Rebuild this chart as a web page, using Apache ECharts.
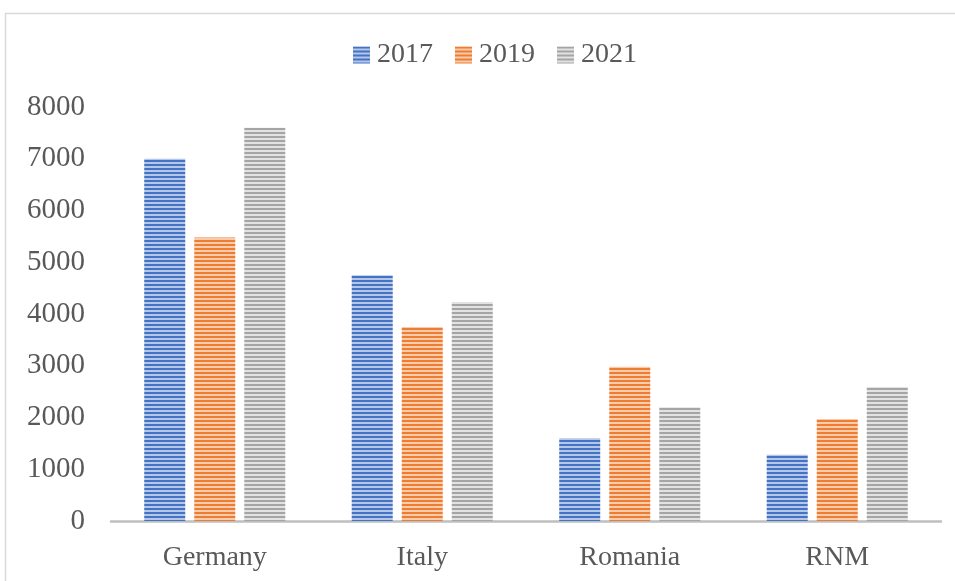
<!DOCTYPE html>
<html>
<head>
<meta charset="utf-8">
<script src="https://cdn.jsdelivr.net/npm/echarts@6/dist/echarts.min.js"></script>
<style>
  html, body { margin: 0; padding: 0; background: #fff; }
  #chart { width: 955px; height: 581px; }
</style>
</head>
<body>
<div id="chart"></div>
<script>
// Countries on the category axis
const countries = ['Germany', 'Italy', 'Romania', 'RNM'];
// Yearly values per country
const years = ['2017', '2019', '2021'];
const values2017 = [7000, 4750, 1600, 1280];
const values2019 = [5480, 3750, 2980, 1970];
const values2021 = [7600, 4230, 2200, 2590];
// Value axis ticks
const yTicks = [0, 1000, 2000, 3000, 4000, 5000, 6000, 7000, 8000];

const FONT = '"Liberation Serif", "Times New Roman", serif';

// Horizontal stripe fill: a dark row and a light row repeated
function stripes(dark, light) {
  const c = document.createElement('canvas');
  c.width = 4; c.height = 4;
  const ctx = c.getContext('2d');
  ctx.fillStyle = light;
  ctx.fillRect(0, 0, 4, 4);
  ctx.fillStyle = dark;
  ctx.fillRect(0, 0, 4, 2);
  return { image: c, repeat: 'repeat' };
}

const fills = [
  stripes('#4472C4', '#B4C7E7'),
  stripes('#ED7D31', '#F8CBAD'),
  stripes('#A5A5A5', '#E2E2E2')
];
const seriesValues = [values2017, values2019, values2021];

const chart = echarts.init(document.getElementById('chart'), null, { renderer: 'canvas' });
chart.setOption({
  backgroundColor: '#fff',
  animation: false,
  graphic: [{
    type: 'rect',
    shape: { x: 5.5, y: 13.5, width: 1000, height: 1000 },
    style: { fill: 'none', stroke: '#D9D9D9', lineWidth: 1.5 },
    silent: true
  }],
  legend: {
    top: 36,
    left: 348,
    itemWidth: 17,
    itemHeight: 17,
    itemGap: 22,
    icon: 'rect',
    textStyle: { fontFamily: FONT, fontSize: 28, color: '#595959', padding: [0, 0, 0, 2] },
    data: years
  },
  grid: { left: 111, right: 14, top: 107, bottom: 60, containLabel: false },
  xAxis: {
    type: 'category',
    data: countries,
    axisLine: { lineStyle: { color: '#BFBFBF', width: 2.5 } },
    axisTick: { show: false },
    axisLabel: { fontFamily: FONT, fontSize: 28, color: '#595959', margin: 23 }
  },
  yAxis: {
    type: 'value',
    min: yTicks[0],
    max: yTicks[yTicks.length - 1],
    interval: 1000,
    axisLine: { show: false },
    axisTick: { show: false },
    splitLine: { show: false },
    axisLabel: {
      fontFamily: FONT, fontSize: 29, color: '#595959', margin: 26,
      padding: [5, 0, 0, 0],
      formatter: v => String(v)
    }
  },
  series: years.map((y, i) => ({
    name: y,
    type: 'bar',
    data: seriesValues[i],
    barWidth: 41,
    barGap: '22%',
    itemStyle: { color: fills[i] }
  }))
});
</script>
</body>
</html>
